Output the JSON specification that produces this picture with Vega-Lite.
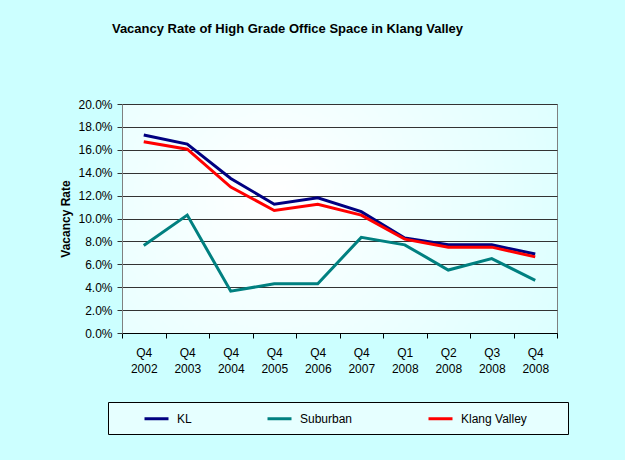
{
  "$schema": "https://vega.github.io/schema/vega-lite/v6.json",
  "width": 435,
  "height": 229,
  "autosize": {"type": "none"},
  "padding": {"left": 122, "top": 104, "right": 68, "bottom": 127},
  "background": "#CCFFFF",
  "title": {
    "text": "Vacancy Rate of High Grade Office Space in Klang Valley",
    "font": "Liberation Sans",
    "fontSize": 13,
    "fontWeight": "bold",
    "color": "#000000",
    "anchor": "middle",
    "frame": "group",
    "offset": 62,
    "dx": -52
  },
  "config": {
    "font": "Liberation Sans",
    "view": {
      "stroke": "#808080",
      "strokeWidth": 1,
      "fill": {
        "gradient": "radial",
        "x1": 0.35, "y1": 0.45, "r1": 0,
        "x2": 0.35, "y2": 0.45, "r2": 0.85,
        "stops": [
          {"offset": 0, "color": "#FFFFFF"},
          {"offset": 1, "color": "#D6FFFF"}
        ]
      }
    }
  },
  "data": {
    "values": [
      {"quarter": "Q4 2002", "series": "KL", "rate": 0.173},
      {"quarter": "Q4 2003", "series": "KL", "rate": 0.165},
      {"quarter": "Q4 2004", "series": "KL", "rate": 0.135},
      {"quarter": "Q4 2005", "series": "KL", "rate": 0.1125},
      {"quarter": "Q4 2006", "series": "KL", "rate": 0.118},
      {"quarter": "Q4 2007", "series": "KL", "rate": 0.106},
      {"quarter": "Q1 2008", "series": "KL", "rate": 0.083},
      {"quarter": "Q2 2008", "series": "KL", "rate": 0.077},
      {"quarter": "Q3 2008", "series": "KL", "rate": 0.077},
      {"quarter": "Q4 2008", "series": "KL", "rate": 0.069},
      {"quarter": "Q4 2002", "series": "Suburban", "rate": 0.0765},
      {"quarter": "Q4 2003", "series": "Suburban", "rate": 0.103},
      {"quarter": "Q4 2004", "series": "Suburban", "rate": 0.0365},
      {"quarter": "Q4 2005", "series": "Suburban", "rate": 0.043},
      {"quarter": "Q4 2006", "series": "Suburban", "rate": 0.043},
      {"quarter": "Q4 2007", "series": "Suburban", "rate": 0.0835},
      {"quarter": "Q1 2008", "series": "Suburban", "rate": 0.077},
      {"quarter": "Q2 2008", "series": "Suburban", "rate": 0.055},
      {"quarter": "Q3 2008", "series": "Suburban", "rate": 0.065},
      {"quarter": "Q4 2008", "series": "Suburban", "rate": 0.046},
      {"quarter": "Q4 2002", "series": "Klang Valley", "rate": 0.167},
      {"quarter": "Q4 2003", "series": "Klang Valley", "rate": 0.1605},
      {"quarter": "Q4 2004", "series": "Klang Valley", "rate": 0.1275},
      {"quarter": "Q4 2005", "series": "Klang Valley", "rate": 0.107},
      {"quarter": "Q4 2006", "series": "Klang Valley", "rate": 0.1125},
      {"quarter": "Q4 2007", "series": "Klang Valley", "rate": 0.103},
      {"quarter": "Q1 2008", "series": "Klang Valley", "rate": 0.082},
      {"quarter": "Q2 2008", "series": "Klang Valley", "rate": 0.075},
      {"quarter": "Q3 2008", "series": "Klang Valley", "rate": 0.075},
      {"quarter": "Q4 2008", "series": "Klang Valley", "rate": 0.0665}
    ]
  },
  "mark": {"type": "line", "strokeWidth": 3},
  "encoding": {
    "x": {
      "field": "quarter",
      "type": "ordinal",
      "sort": null,
      "scale": {"type": "band", "paddingInner": 0, "paddingOuter": 0},
      "axis": {
        "title": null,
        "labelAngle": 0,
        "tickBand": "extent",
        "labelExpr": "split(datum.label, ' ')",
        "labelFontSize": 12,
        "labelColor": "#000000",
        "labelLineHeight": 16,
        "labelPadding": 9,
        "domainColor": "#000000",
        "tickColor": "#000000",
        "tickSize": 5,
        "grid": false
      }
    },
    "y": {
      "field": "rate",
      "type": "quantitative",
      "scale": {"domain": [0, 0.2]},
      "axis": {
        "title": "Vacancy Rate",
        "titleFontSize": 12,
        "titleFontWeight": "bold",
        "titleColor": "#000000",
        "titlePadding": 5,
        "format": ".1%",
        "values": [0, 0.02, 0.04, 0.06, 0.08, 0.1, 0.12, 0.14, 0.16, 0.18, 0.2],
        "labelFontSize": 12,
        "labelColor": "#000000",
        "labelPadding": 5,
        "grid": true,
        "gridColor": "#333333",
        "gridOpacity": 1,
        "domainColor": "#808080",
        "tickColor": "#333333",
        "tickSize": 5
      }
    },
    "color": {
      "field": "series",
      "type": "nominal",
      "scale": {
        "domain": ["KL", "Suburban", "Klang Valley"],
        "range": ["#000080", "#008080", "#FF0000"]
      },
      "legend": {
        "orient": "none",
        "legendX": -14,
        "legendY": 298,
        "direction": "horizontal",
        "title": null,
        "fillColor": "#E6FFFF",
        "strokeColor": "#000000",
        "padding": 9,
        "symbolType": "M-2,0H2",
        "symbolSize": 144,
        "symbolStrokeWidth": 3,
        "symbolOffset": 32,
        "labelOffset": 13,
        "columnPadding": 48,
        "labelFontSize": 12,
        "labelColor": "#000000",
        "encode": {
          "symbols": {
            "update": {
              "shape": {"signal": "datum.value == 'Klang Valley' ? 'M-2,0H2M18.6,0' : 'M-2,0H2'"}
            }
          }
        }
      }
    }
  }
}
